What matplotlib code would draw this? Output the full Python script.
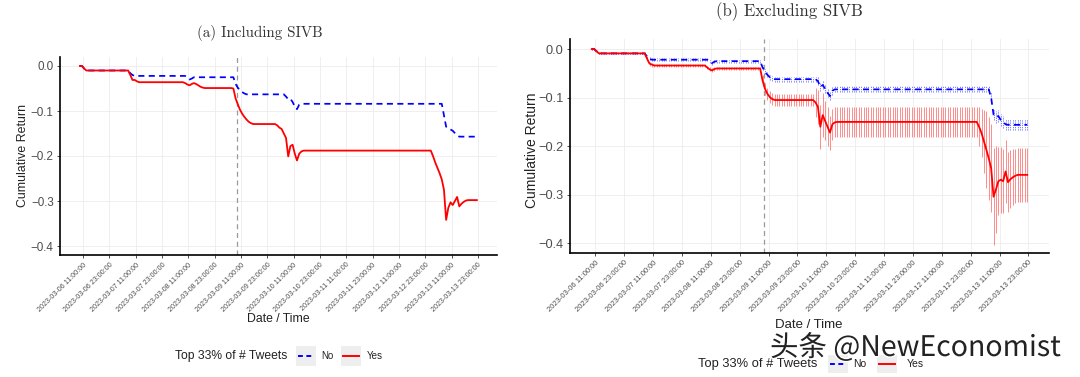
import matplotlib.pyplot as plt
import matplotlib.patheffects as pe
import numpy as np
import pandas as pd
from matplotlib.lines import Line2D
from matplotlib.patches import Rectangle

plt.rcParams['font.family'] = ['Liberation Sans', 'DejaVu Sans']

W, H = 1080, 377

# hourly observations, 2023-03-06 09:30 .. 2023-03-13 22:30
times = pd.date_range('2023-03-06 09:30', periods=182, freq='h')
event_time = pd.Timestamp('2023-03-09 09:00')

tick_labels = ['2023-03-06 11:00:00', '2023-03-06 23:00:00', '2023-03-07 11:00:00',
               '2023-03-07 23:00:00', '2023-03-08 11:00:00', '2023-03-08 23:00:00',
               '2023-03-09 11:00:00', '2023-03-09 23:00:00', '2023-03-10 11:00:00',
               '2023-03-10 23:00:00', '2023-03-11 11:00:00', '2023-03-11 23:00:00',
               '2023-03-12 11:00:00', '2023-03-12 23:00:00', '2023-03-13 11:00:00',
               '2023-03-13 23:00:00']
y_ticks = [0.0, -0.1, -0.2, -0.3, -0.4]
y_tick_labels = ['0.0', '\u22120.1', '\u22120.2', '\u22120.3', '\u22120.4']

# (a) Including SIVB
yes_a = ([0.0, 0.0, -0.006] + [-0.010] * 20
         + [-0.020, -0.031, -0.031, -0.034, -0.036] + [-0.036] * 20
         + [-0.038, -0.041, -0.043, -0.040, -0.038, -0.040, -0.043, -0.046, -0.048] + [-0.049] * 13
         + [-0.050, -0.072, -0.085, -0.097, -0.106, -0.113, -0.119, -0.124, -0.127] + [-0.129] * 11
         + [-0.132, -0.137, -0.140, -0.150, -0.160, -0.201, -0.178, -0.175, -0.195, -0.210, -0.195, -0.190]
         + [-0.188] * 59
         + [-0.200, -0.214, -0.226, -0.238, -0.252, -0.275, -0.342, -0.315, -0.303, -0.309,
            -0.300, -0.291, -0.312, -0.306, -0.302, -0.299]
         + [-0.298] * 5)
no_a = ([0.0, 0.0, -0.006] + [-0.010] * 20
        + [-0.016, -0.020] + [-0.022] * 24
        + [-0.026, -0.030, -0.028, -0.025] + [-0.025] * 18
        + [-0.040, -0.048, -0.054, -0.058, -0.061] + [-0.063] * 18
        + [-0.068, -0.074, -0.073, -0.080, -0.090, -0.096, -0.086] + [-0.084] * 65
        + [-0.110, -0.135, -0.138, -0.141, -0.144, -0.149, -0.153] + [-0.157] * 9)

# (b) Excluding SIVB
yes_b = ([0.0, 0.0, -0.005] + [-0.009] * 20
         + [-0.020, -0.030, -0.032, -0.034] + [-0.034] * 21
         + [-0.038, -0.042, -0.044, -0.041] + [-0.040] * 19
         + [-0.065, -0.082, -0.092, -0.099, -0.103, -0.105] + [-0.105] * 16
         + [-0.110, -0.119, -0.160, -0.136, -0.148, -0.160, -0.172, -0.155, -0.151]
         + [-0.150] * 59
         + [-0.160, -0.173, -0.190, -0.207, -0.225, -0.245, -0.304, -0.289, -0.272, -0.269,
            -0.272, -0.252, -0.274, -0.268, -0.264, -0.261]
         + [-0.259] * 5)
no_b = ([0.0, 0.0, -0.005] + [-0.009] * 20
        + [-0.016, -0.020] + [-0.022] * 24
        + [-0.025, -0.029, -0.026] + [-0.025] * 19
        + [-0.038, -0.046, -0.053, -0.058, -0.061] + [-0.062] * 18
        + [-0.066, -0.078, -0.074, -0.082, -0.090, -0.097, -0.086] + [-0.083] * 65
        + [-0.100, -0.135, -0.140, -0.138, -0.146, -0.150, -0.155] + [-0.156] * 9)
# half widths of the error bars in (b)
yes_b_err = ([0.002] * 23 + [0.004] * 48 + [0.012] * 22
             + [0.030, 0.035, 0.045, 0.045, 0.040, 0.040, 0.035, 0.032, 0.031]
             + [0.031] * 59
             + [0.040, 0.050, 0.065, 0.080, 0.085, 0.090]
             + [0.100, 0.090, 0.070, 0.068, 0.066, 0.065, 0.062, 0.060, 0.058] + [0.056] * 6)
no_b_err = ([0.001] * 23 + [0.003] * 48 + [0.005] * 23 + [0.008] * 7
            + [0.006] * 65 + [0.012] * 7 + [0.011] * 9)

RED = '#ff0000'
BLUE = '#0000ff'
TXT = '#4d4d4d'


def px(x, y):
    return x / W, 1 - y / H


def draw_panel(ax, no_vals, yes_vals, no_err=None, yes_err=None, xt_size=5.1, yt_size=8.4):
    t = times.to_numpy()
    if yes_err is not None:
        yv, ye = np.array(yes_vals), np.array(yes_err)
        ax.vlines(t, yv - ye, yv + ye, color=RED, alpha=0.45, lw=0.7, zorder=2)
    if no_err is not None:
        nv, ne = np.array(no_vals), np.array(no_err)
        ax.vlines(t, nv - ne, nv + ne, color=BLUE, alpha=0.6, lw=0.6,
                  linestyles=(0, (1.5, 1.2)), zorder=2)
    ax.plot(t, no_vals, color=BLUE, lw=1.25, dashes=(3.5, 2.5), zorder=3)
    ax.plot(t, yes_vals, color=RED, lw=1.3, zorder=4)
    ax.axvline(event_time, color='#9a9a9a', lw=0.9, dashes=(4, 3), zorder=1)

    span = times[-1] - times[0]
    ax.set_xlim(times[0] - 0.05 * span, times[-1] + 0.05 * span)
    ax.set_ylim(-0.42, 0.02)
    ax.set_xticks(pd.to_datetime(tick_labels))
    ax.set_xticklabels(tick_labels, rotation=45, ha='right', va='top',
                       rotation_mode='anchor', fontsize=xt_size, color=TXT)
    ax.set_yticks(y_ticks)
    ax.set_yticklabels(y_tick_labels, fontsize=yt_size, color=TXT)
    ax.tick_params(length=2.5, width=0.6, color='#333333', pad=2)
    ax.grid(True, color='#ececec', lw=0.6, zorder=0)
    ax.set_axisbelow(True)
    for s in ['top', 'right']:
        ax.spines[s].set_visible(False)
    for s in ['left', 'bottom']:
        ax.spines[s].set_linewidth(1.2)
        ax.spines[s].set_color('black')


def draw_legend(fig, x0, y, box1, box2, x_no, x_yes, t_size, l_size, bh):
    fig.text(*px(x0, y), 'Top 33% of # Tweets', fontsize=t_size, color='#222222',
             ha='left', va='center')
    for bx, color, dash in [(box1, BLUE, (2.5, 1.8)), (box2, RED, None)]:
        fx, fy = px(bx, y + bh / 2)
        fig.add_artist(Rectangle((fx, fy), 20 / W, bh / H, transform=fig.transFigure,
                                 facecolor='#eeeeee', edgecolor='none'))
        ln = Line2D([(bx + 2) / W, (bx + 18) / W], [1 - y / H] * 2, transform=fig.transFigure,
                    color=color, lw=1.4)
        if dash:
            ln.set_dashes(dash)
        fig.add_artist(ln)
    fig.text(*px(x_no, y), 'No', fontsize=l_size, color='#222222', ha='left', va='center')
    fig.text(*px(x_yes, y), 'Yes', fontsize=l_size, color='#222222', ha='left', va='center')


fig = plt.figure(figsize=(W / 100, H / 100), dpi=100)

ax1 = fig.add_axes([60 / W, 1 - 255 / H, 436.7 / W, 198 / H])
draw_panel(ax1, no_a, yes_a, xt_size=5.1, yt_size=8.4)
ax2 = fig.add_axes([570 / W, 1 - 253.1 / H, 479 / W, 213.8 / H])
draw_panel(ax2, no_b, yes_b, no_b_err, yes_b_err, xt_size=5.5, yt_size=9.2)

# titles
fig.text(*px(260, 33), '(a) Including SIVB', family='cmr10', fontsize=10.8,
         color='#333333', ha='center', va='center')
fig.text(*px(789, 12), '(b) Excluding SIVB', family='cmr10', fontsize=12.1,
         color='#333333', ha='center', va='center')

# axis labels
fig.text(*px(23.5, 156), 'Cumulative Return', rotation=90, fontsize=8.9, color='#222222',
         ha='center', va='center')
fig.text(*px(532, 150), 'Cumulative Return', rotation=90, fontsize=10, color='#222222',
         ha='center', va='center')
fig.text(*px(278, 319.5), 'Date / Time', fontsize=8.8, color='#222222', ha='center', va='center')
fig.text(*px(809, 325), 'Date / Time', fontsize=9.5, color='#222222', ha='center', va='center')

# legends
draw_legend(fig, 175, 356, 295.7, 341, 321.7, 367.3, 8.7, 7.0, 20)
draw_legend(fig, 698, 364, 828, 877, 853, 907, 9.3, 7.5, 18)

# watermark
fig.text(*px(770, 348), '头条 @NewEconomist', family=['Noto Sans CJK SC', 'DejaVu Sans'],
         fontsize=20.5, color='#222222', ha='left', va='center',
         path_effects=[pe.withStroke(linewidth=2, foreground='white')])

fig.savefig('out.png', dpi=100, facecolor='white')
